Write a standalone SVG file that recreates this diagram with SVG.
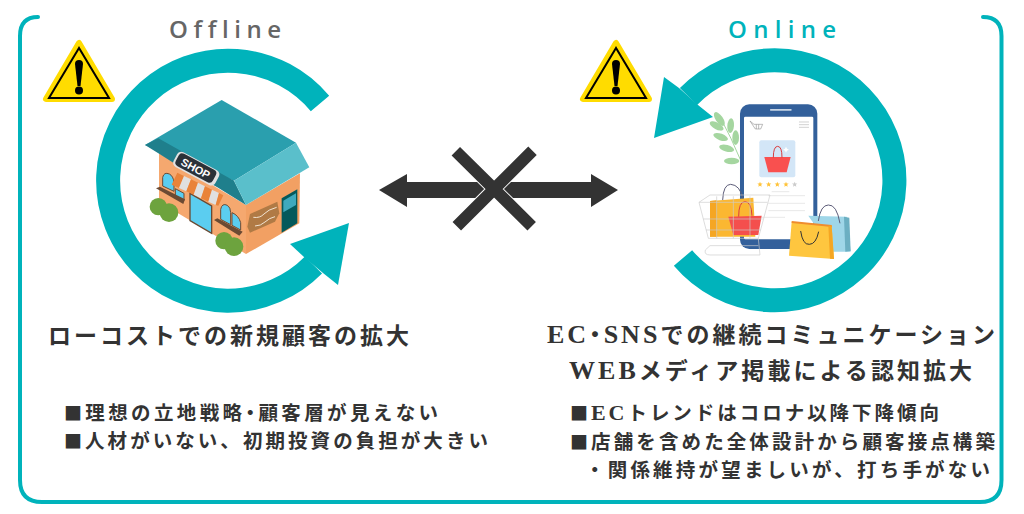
<svg xmlns="http://www.w3.org/2000/svg" width="1024" height="514" viewBox="0 0 1024 514">
<style>
.cyc{fill:none;stroke:#00b3bb;stroke-width:24}
.tea{fill:#00b3bb}
.h{font-family:"Liberation Serif","Noto Sans CJK JP",serif;font-weight:700;font-size:23px;fill:#333}
.l{font-family:"Liberation Serif","Noto Sans CJK JP",serif;font-weight:700;font-size:19.5px;fill:#333}
.t{font-family:"Open Sans","Noto Sans",sans-serif;font-weight:600;font-size:24px;font-variant-ligatures:none}
.sq{font-family:"Noto Sans CJK JP",sans-serif;font-size:18px}
.dot{font-feature-settings:"palt"}
.lat{font-size:26px}
.lat2{font-size:22px}
.ln{fill:none;stroke:#ddd;stroke-width:2}
.hd{fill:none;stroke:#5c5c78;stroke-width:3}
</style>
<defs>
<g id="warn">
<polygon points="36,4 3,60 69,60" fill="#ffdc00" stroke="#ffdc00" stroke-width="6" stroke-linejoin="round"/>
<polygon points="36,9 6,59 66,59" fill="none" stroke="#000" stroke-width="2"/>
<path d="M32,25 Q32,21 36,21 Q40,21 40,25 L37.500,47 L34.500,47Z" fill="#000"/>
<circle cx="36" cy="51.500" r="4" fill="#000"/>
</g>
<polygon id="star" points="0,-8 2.300,-2.600 8,-2.400 3.600,1.300 5,7 0,4 -5,7 -3.600,1.300 -8,-2.400 -2.300,-2.600"/>
</defs>
<rect width="1024" height="514" fill="#fff"/>
<path id="frame" d="M38,17 Q20,17 20,36 V480 Q20,502 42,502 H980 Q1001.500,502 1001.500,480 V36 Q1001.500,17 983,17" fill="none" stroke="#00b3bb" stroke-width="4" stroke-linecap="round"/>

<g id="offline-title"><text class="t" x="169" y="38" textLength="112" fill="#666">Offline</text></g>
<g id="online-title"><text class="t" x="728" y="38" textLength="108" fill="#00b3bb">Online</text></g>

<g id="warning-left"><use href="#warn" x="43" y="39"/></g>
<g id="warning-right"><use href="#warn" x="580" y="39"/></g>

<g id="offline-cycle">
<path class="cyc" d="M320,103.500 A120,120 0 1 0 313.500,265"/>
<polygon class="tea" points="349,223 290,244 304,257 323,273 338,285"/>
</g>
<g id="online-cycle">
<path class="cyc" d="M683,258 A120,120 0 1 0 688.500,96.500"/>
<polygon class="tea" points="654,138 664,77 679,88 698,105 713,117"/>
</g>

<g id="shop" transform="translate(140 90) scale(.3333)">
<polygon points="57,190 318,345 318,492 57,335" fill="#f5a86f"/>
<polygon points="318,345 480,250 478,400 318,492" fill="#f2a063"/>
<polygon points="15,165 245,30 468,158 282,272" fill="#2a9fae"/>
<polygon points="15,165 55,145 282,272 318,345 232,292 100,218 55,190" fill="#1f7f8c"/>
<polygon points="468,158 508,232 318,345 282,272" fill="#5abfcb"/>
<polygon points="425,325 472,298 472,400 425,428" fill="#04595b"/>
<polygon points="430,332 468,310 468,345 430,367" fill="#3fa9bd"/>
<polygon points="330,372 412,335 418,370 405,395 330,428 322,410" fill="#b07a45"/>
<path d="M340,382 Q360,385 372,372 T410,352 M345,408 Q362,408 375,396 T405,380" fill="none" stroke="#f1e4d2" stroke-width="3"/>
<polygon points="150,310 215,348 215,430 150,392" fill="#5bcdf0" stroke="#6b4a33" stroke-width="4"/>
<path d="M68,288 V262 Q72,245 88,252 Q100,258 102,278 V304Z M106,296 L132,310 V332 L106,318Z" fill="#5bcdf0" stroke="#6b4a33" stroke-width="3"/>
<path d="M242,388 V358 Q246,338 262,346 Q272,352 272,368 V404Z M276,368 Q296,376 302,398 V420 L276,406Z" fill="#5bcdf0" stroke="#6b4a33" stroke-width="3"/>
<polygon points="48,295 60,290 135,328 130,342" fill="#6b4a33"/>
<polygon points="222,390 232,385 308,425 298,437" fill="#6b4a33"/>
<polygon points="112,248 95,284 117,294 132,258" fill="#e9833a"/>
<polygon points="132,258 117,294 139,304 153,268" fill="#e0e0e0"/>
<polygon points="153,268 139,304 161,314 174,278" fill="#e9833a"/>
<polygon points="174,278 161,314 183,325 195,289" fill="#e0e0e0"/>
<polygon points="195,289 183,325 205,335 216,299" fill="#e9833a"/>
<polygon points="216,299 205,335 227,345 237,309" fill="#e0e0e0"/>
<polygon points="237,309 227,345 235,347 250,316" fill="#e9833a"/>
<g transform="rotate(28 167 235)">
<rect x="98" y="210" width="142" height="50" rx="14" fill="#e2e2e2"/>
<rect x="104" y="213" width="126" height="42" rx="12" fill="#2b3238"/>
<text x="167" y="247" text-anchor="middle" font-family="'Liberation Sans',sans-serif" font-weight="700" font-size="33" fill="#fff">SHOP</text>
</g>
<circle cx="55" cy="350" r="26" fill="#6da33e"/><circle cx="87" cy="368" r="28" fill="#6da33e"/>
<circle cx="252" cy="452" r="26" fill="#6da33e"/><circle cx="282" cy="470" r="28" fill="#6da33e"/>
</g>

<g id="phone-scene" transform="translate(690 95) scale(.3333)">
<g fill="#a5d6a0">
<ellipse cx="88" cy="72" rx="11" ry="24" transform="rotate(-35 88 72)"/>
<ellipse cx="122" cy="92" rx="10" ry="22" transform="rotate(5 122 92)"/>
<ellipse cx="80" cy="93" rx="23" ry="10" transform="rotate(28 80 93)"/>
<ellipse cx="137" cy="128" rx="10" ry="22"/>
<ellipse cx="92" cy="126" rx="23" ry="10" transform="rotate(20 92 126)"/>
<ellipse cx="110" cy="160" rx="23" ry="10" transform="rotate(15 110 160)"/>
<ellipse cx="125" cy="198" rx="23" ry="10"/>
</g>
<path d="M88,62 Q125,130 152,196" fill="none" stroke="#a5d6a0" stroke-width="3"/>
<rect x="150" y="28" width="232" height="434" rx="28" fill="#33609b"/>
<rect x="162" y="65" width="208" height="368" rx="4" fill="#fff"/>
<rect x="240" y="42" width="65" height="5" rx="2" fill="#c9d6e6"/>
<path d="M180,78 L192,88 H218 L212,102 H196 Z M199,88 V102 M206,88 V102" fill="none" stroke="#999" stroke-width="2"/>
<path d="M327,81 H357 M327,89 H357 M327,97 H357" stroke="#bbb" stroke-width="2"/>
<rect x="208" y="136" width="108" height="111" rx="6" fill="#d3e6f7"/>
<polygon points="223,186 302,186 290,232 235,232" fill="#f9504f"/>
<path d="M250,188 Q250,154 263,154 Q276,154 276,188" fill="none" stroke="#d93b3e" stroke-width="3"/>
<path d="M288,155 l3,6 l6,3 l-6,3 l-3,6 l-3,-6 l-6,-3 l6,-3Z" fill="#fff"/>
<g fill="#ffc33a">
<use href="#star" x="210" y="268"/><use href="#star" x="236" y="268"/><use href="#star" x="262" y="268"/><use href="#star" x="288" y="268"/>
</g>
<use href="#star" x="314" y="268" fill="#ccc"/>
<path class="ln" d="M245,290 H298 M235,302 H345 M235,325 H345 M235,347 H345 M190,367 H285"/>
<polygon points="60,318 190,308 196,425 60,425" fill="#fbb731"/>
<polygon points="60,318 60,425 80,425 80,316" fill="#f5a623"/>
<path class="hd" d="M98,315 Q100,268 122,268 Q150,270 158,310"/>
<polygon points="115,365 215,362 205,420 130,420" fill="#f44f4d"/>
<path d="M146,365 Q146,320 165,320 Q184,320 186,362" fill="none" stroke="#d93b3e" stroke-width="3"/>
<path d="M27,322 L60,300 H240 L205,430 H55 Z M27,322 H232 M40,372 H218 M48,405 H212 M80,304 V430 M130,304 V430 M180,304 V430 M205,430 L210,480 H60 Q42,480 46,465 L60,452 H205" fill="none" stroke="#ccc" stroke-width="2"/>
<polygon points="355,362 470,365 482,470 430,470" fill="#9fd6e8"/>
<polygon points="462,365 478,368 482,468 466,470" fill="#6cafc2"/>
<path class="hd" d="M385,378 Q392,330 415,330 Q440,328 450,385"/>
<polygon points="305,380 425,392 432,492 297,482" fill="#fec63f"/>
<polygon points="305,378 425,390 426,396 305,384" fill="#ef8c2e"/>
<polygon points="425,392 432,492 420,491 415,392" fill="#f5a623"/>
<path d="M332,408 Q338,450 358,448 Q378,448 386,410" fill="none" stroke="#333" stroke-width="3"/>
</g>

<g id="connectors" fill="#333">
<polygon points="379,190 407,174 407,182 490,182 490,198 407,198 407,207"/>
<polygon points="618,190 591,174 591,182 498,182 498,198 591,198 591,207"/>
<path d="M455.800,151.200 L531.700,226.200 M532.500,150.800 L456.800,226.200" fill="none" stroke="#fff" stroke-width="14"/>
<path d="M455.800,151.200 L531.700,226.200 M532.500,150.800 L456.800,226.200" fill="none" stroke="#333" stroke-width="12"/>
</g>

<g id="offline-text">
<text class="h" x="48" y="344" textLength="361">ローコストでの新規顧客の拡大</text>
<text class="l" x="64" y="420" textLength="374"><tspan class="sq">■</tspan>理想の立地戦略<tspan class="dot">・</tspan>顧客層が見えない</text>
<text class="l" x="64" y="448" textLength="424"><tspan class="sq">■</tspan>人材がいない、初期投資の負担が大きい</text>
</g>
<g id="online-text">
<text class="h" x="547" y="343" textLength="448"><tspan class="lat">EC</tspan><tspan class="dot">・</tspan><tspan class="lat">SNS</tspan>での継続コミュニケーション</text>
<text class="h" x="569" y="379" textLength="403"><tspan class="lat">WEB</tspan>メディア掲載による認知拡大</text>
<text class="l" x="570" y="420" textLength="369"><tspan class="sq">■</tspan><tspan class="lat2">EC</tspan>トレンドはコロナ以降下降傾向</text>
<text class="l" x="570" y="449" textLength="425"><tspan class="sq">■</tspan>店舗を含めた全体設計から顧客接点構築</text>
<text class="l" x="585" y="477" textLength="405">・関係維持が望ましいが、打ち手がない</text>
</g>
</svg>
